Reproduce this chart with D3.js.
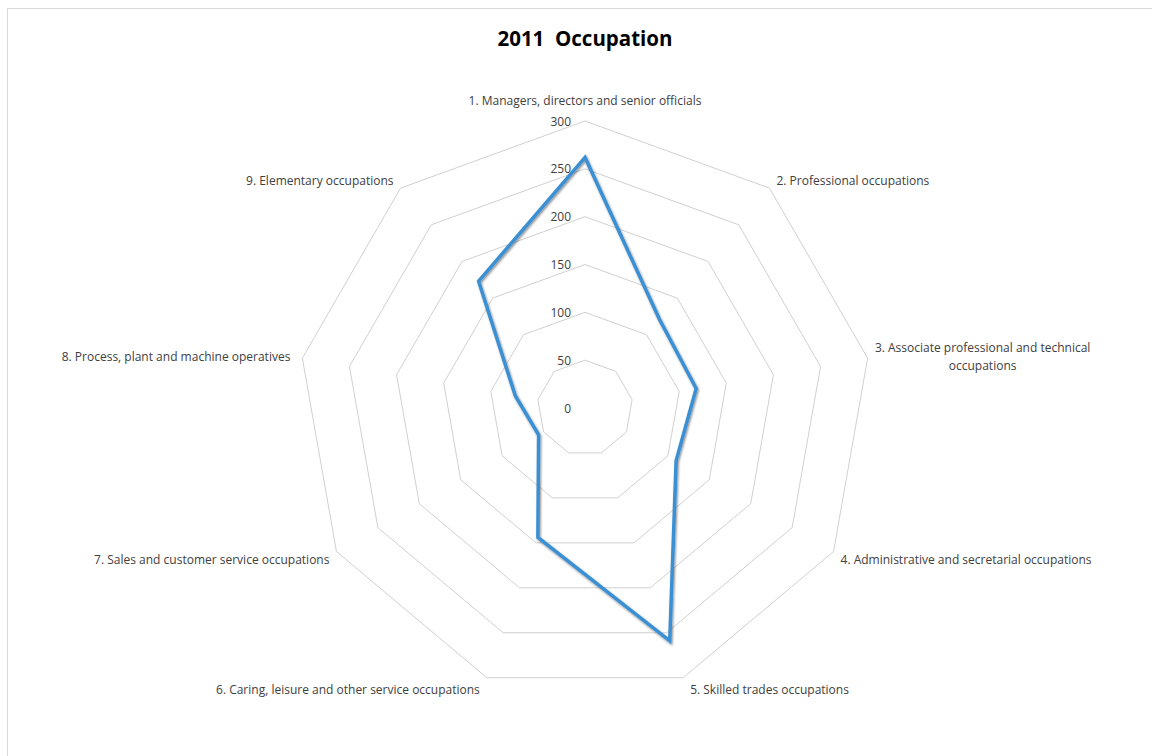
<!DOCTYPE html>
<html>
<head>
<meta charset="utf-8">
<script src="https://cdn.jsdelivr.net/npm/d3@7"></script>
<style>
  body { margin: 0; background: #fff; }
  svg { display: block; font-family: "Open Sans", "Noto Sans", sans-serif; }
</style>
</head>
<body>
<svg id="chart" width="1152" height="756"></svg>
<script>
const categories = [
  '1. Managers, directors and senior officials',
  '2. Professional occupations',
  '3. Associate professional and technical occupations',
  '4. Administrative and secretarial occupations',
  '5. Skilled trades occupations',
  '6. Caring, leisure and other service occupations',
  '7. Sales and customer service occupations',
  '8. Process, plant and machine operatives',
  '9. Elementary occupations'
];
const values = [262, 121, 118, 110, 259, 144, 56, 74, 173];
const ticks = [0, 50, 100, 150, 200, 250, 300];

const svg = d3.select('#chart');
const width = 1152, height = 756;
const cx = 585, cy = 408, radius = 287;

// chart frame
svg.append('rect')
  .attr('x', 7.5).attr('y', 8.5)
  .attr('width', width).attr('height', height)
  .attr('fill', 'none')
  .attr('stroke', '#d9d9d9')
  .attr('stroke-width', 1);

svg.append('text')
  .attr('x', cx).attr('y', 38)
  .attr('text-anchor', 'middle')
  .attr('dominant-baseline', 'central')
  .attr('font-size', 20.5)
  .attr('font-weight', 'bold')
  .attr('fill', '#000')
  .text('2011\u00a0 Occupation');

const r = d3.scaleLinear().domain([0, 300]).range([0, radius]);
const angle = d3.scaleLinear().domain([0, categories.length]).range([0, 2 * Math.PI]);

const pt = (i, v) => [cx + r(v) * Math.sin(angle(i)), cy - r(v) * Math.cos(angle(i))];

const g = svg.append('g');

// grid rings
const ringLine = d3.line();
ticks.filter(t => t > 0).forEach(t => {
  const pts = categories.map((c, i) => pt(i, t));
  g.append('path')
    .attr('d', ringLine(pts) + 'Z')
    .attr('fill', 'none')
    .attr('stroke', '#d0d0d0')
    .attr('stroke-width', 1);
});

// tick labels
ticks.forEach(t => {
  g.append('text')
    .attr('x', cx - 14)
    .attr('y', cy - r(t))
    .attr('text-anchor', 'end')
    .attr('dominant-baseline', 'central')
    .attr('font-size', 12)
    .attr('fill', '#404040')
    .text(t);
});

// category labels
const labelLines = [
  [categories[0]],
  [categories[1]],
  ['3. Associate professional and technical', 'occupations'],
  [categories[3]],
  [categories[4]],
  [categories[5]],
  [categories[6]],
  [categories[7]],
  [categories[8]]
];
categories.forEach((c, i) => {
  const a = angle(i);
  const s = Math.sin(a), co = Math.cos(a);
  const [x, y] = pt(i, 300);
  let tx = x, ty = y, anchor = 'middle';
  if (i === 0) { ty = y - 21; }
  else if (s > 0) { anchor = 'start'; tx = x + 7; ty = y + (co > 0 ? -8 : 8) ; }
  else { anchor = 'end'; tx = x - 7; ty = y + (co > 0 ? -8 : 8); }
  if (i === 4 || i === 5) ty = y + 12;
  if (i === 7) { ty = y - 2; tx = x - 12; }
  if (i === 2) ty = y - 2;
  const lines = labelLines[i];
  const text = g.append('text')
    .attr('font-size', 12)
    .attr('fill', '#404040')
    .attr('dominant-baseline', 'central');
  if (lines.length === 1) {
    text.attr('x', tx).attr('y', ty).attr('text-anchor', anchor).text(lines[0]);
  } else {
    const center = tx + 108;
    lines.forEach((l, k) => {
      text.append('tspan')
        .attr('x', center)
        .attr('y', ty - 9 + k * 18)
        .attr('text-anchor', 'middle')
        .text(l);
    });
  }
});

// shadow for series line
const defs = svg.append('defs');
const f = defs.append('filter').attr('id', 'shadow')
  .attr('x', '-10%').attr('y', '-10%').attr('width', '120%').attr('height', '120%');
f.append('feDropShadow')
  .attr('dx', 1).attr('dy', 1.5).attr('stdDeviation', 1.2)
  .attr('flood-color', '#000').attr('flood-opacity', 0.45);

const series = values.map((v, i) => pt(i, v));
g.append('path')
  .attr('d', d3.line()(series) + 'Z')
  .attr('fill', 'none')
  .attr('stroke', '#3b90d4')
  .attr('stroke-width', 3.5)
  .attr('stroke-linejoin', 'miter')
  .attr('filter', 'url(#shadow)');
</script>
</body>
</html>
